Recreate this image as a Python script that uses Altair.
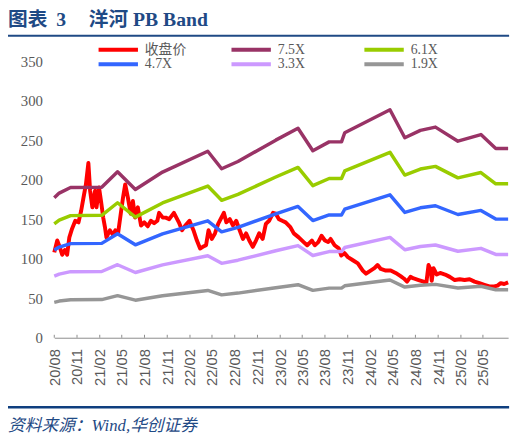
import altair as alt
import pandas as pd

BASE_DATE = "2020-08-01"

# ---- closing price (days since BASE_DATE, value) ----
price_days = [0, 12, 22, 32, 43, 52, 61, 72, 85, 98, 109, 118, 128, 138, 145, 154, 165, 171, 181, 189,
              198, 205, 211, 225, 238, 247, 258, 269, 278, 287, 298, 309, 318, 327, 338, 351, 364, 378, 391, 404,
              417, 424, 439, 451, 465, 484, 504, 517, 530, 547, 563, 577, 590, 601, 614, 624, 637, 650, 663, 676,
              686, 696, 710, 723, 736, 750, 763, 776, 789, 803, 816, 829, 843, 856, 869, 885, 896, 909, 922, 936,
              955, 969, 989, 1009, 1023, 1042, 1054, 1068, 1081, 1095, 1108, 1118, 1134, 1151, 1161, 1174, 1188, 1208, 1228, 1248,
              1261, 1275, 1295, 1308, 1321, 1341, 1361, 1381, 1401, 1414, 1427, 1441, 1454, 1474, 1494, 1505, 1514, 1523, 1527, 1534,
              1547, 1561, 1581, 1600, 1620, 1640, 1660, 1680, 1700, 1720, 1740, 1760, 1780, 1793, 1806, 1820, 1836]
price_vals = [108, 123, 115, 105, 111, 105, 127, 138, 148, 146, 161, 177, 194, 221, 186, 165, 186, 165, 190, 173,
              152, 140, 127, 136, 130, 136, 132, 157, 177, 194, 177, 157, 173, 152, 165, 142, 146, 141, 148, 145,
              148, 158, 152, 152, 150, 158, 146, 136, 142, 148, 136, 123, 113, 115, 117, 136, 125, 132, 144, 152,
              158, 146, 150, 142, 148, 136, 125, 132, 123, 115, 123, 132, 125, 144, 148, 158, 157, 150, 148, 146,
              140, 132, 127, 121, 117, 123, 117, 121, 129, 123, 121, 125, 117, 113, 104, 107, 102, 98, 94, 85,
              81, 84, 88, 92, 87, 85, 85, 82, 78, 75, 71, 77, 75, 73, 71, 69, 92, 86, 72, 88,
              80, 82, 80, 77, 73, 74, 73, 74, 71, 69, 67, 65, 65, 66, 69, 68, 70]

# ---- PB bands (days since BASE_DATE at each break point) ----
band_days = [0, 20, 66, 192, 256, 328, 438, 621, 677, 743, 896, 986, 1046, 1112, 1162, 1175,
             1358, 1418, 1481, 1542, 1633, 1726, 1786, 1836]
band_75 = [177.0, 183.0, 190.0, 190.5, 210.0, 187.6, 209.6, 236.0, 213.8, 223.0, 250.0, 265.0, 236.6, 247.8, 247.8, 259.4,
           288.5, 253.0, 262.4, 266.5, 248.7, 257.0, 239.5, 239.5]
band_61 = [144.0, 148.8, 154.5, 154.9, 170.8, 152.6, 170.5, 191.9, 173.9, 181.4, 203.3, 215.5, 192.4, 201.5, 201.5, 211.0,
           234.6, 205.8, 213.4, 216.8, 202.3, 209.0, 194.8, 194.8]
band_47 = [110.9, 114.7, 119.1, 119.4, 131.6, 117.6, 131.4, 147.9, 134.0, 139.7, 156.7, 166.1, 148.3, 155.3, 155.3, 162.6,
           180.8, 158.5, 164.4, 167.0, 155.9, 161.1, 150.1, 150.1]
band_33 = [77.9, 80.5, 83.6, 83.8, 92.4, 82.5, 92.2, 103.8, 94.1, 98.1, 110.0, 116.6, 104.1, 109.0, 109.0, 114.1,
           126.9, 111.3, 115.5, 117.3, 109.4, 113.1, 105.4, 105.4]
band_19 = [44.8, 46.4, 48.1, 48.3, 53.2, 47.5, 53.1, 59.8, 54.2, 56.5, 63.3, 67.1, 59.9, 62.8, 62.8, 65.7,
           73.1, 64.1, 66.5, 67.5, 63.0, 65.1, 60.7, 60.7]

series_names = ["收盘价", "7.5X", "6.1X", "4.7X", "3.3X", "1.9X"]
series_colors = ["#FF0000", "#993366", "#99CC00", "#3366FF", "#CC99FF", "#969696"]

tick_months = ["2020-08-01", "2020-11-01", "2021-02-01", "2021-05-01", "2021-08-01", "2021-11-01",
               "2022-02-01", "2022-05-01", "2022-08-01", "2022-11-01", "2023-02-01", "2023-05-01",
               "2023-08-01", "2023-11-01", "2024-02-01", "2024-05-01", "2024-08-01", "2024-11-01",
               "2025-02-01", "2025-05-01"]
y_ticks = [0, 50, 100, 150, 200, 250, 300, 350]

title_parts = ["图表", "3", "洋河 PB Band"]
source_text = "资料来源：Wind,华创证券"

assert len(price_days) == len(price_vals)

base = pd.Timestamp(BASE_DATE)
price_df = pd.DataFrame({
    "date": [base + pd.Timedelta(days=d) for d in price_days],
    "value": price_vals,
    "series": series_names[0],
})
band_frames = []
for name, vals in zip(series_names[1:], [band_75, band_61, band_47, band_33, band_19]):
    band_frames.append(pd.DataFrame({
        "date": [base + pd.Timedelta(days=d) for d in band_days],
        "value": vals,
        "series": name,
    }))
band_df = pd.concat(band_frames, ignore_index=True)
tick_df = pd.DataFrame({"date": pd.to_datetime(tick_months)})

W, H = 461, 281
AXIS_GRAY = "#8C8C8C"
LABEL_GRAY = "#595959"
NAVY = "#1F4A85"

tick_vals = [alt.DateTime(year=int(t[:4]), month=int(t[5:7]), date=1) for t in tick_months]
x_scale = alt.Scale(domain=[alt.DateTime(year=2020, month=8, date=1),
                            alt.DateTime(year=2025, month=8, date=11)])
x_axis = alt.Axis(values=tick_vals, format="%y/%m", labelAngle=270, ticks=False,
                  grid=False, domainColor=AXIS_GRAY, domainWidth=1,
                  labelFont="Liberation Sans", labelFontSize=15, labelColor=LABEL_GRAY,
                  labelPadding=11, labelOverlap=False, title=None)
x_enc = alt.X("date:T", scale=x_scale, axis=x_axis)

y_enc = alt.Y("value:Q", scale=alt.Scale(domain=[0, 350], nice=False),
              axis=alt.Axis(values=y_ticks, domain=False, ticks=False, grid=False,
                            labelFont="Liberation Serif", labelFontSize=15,
                            labelColor=LABEL_GRAY, labelPadding=12, title=None))

color_scale = alt.Scale(domain=series_names, range=series_colors)
legend = alt.Legend(orient="none", legendX=43, legendY=-19, columns=3, direction="horizontal",
                    title=None, symbolType="stroke", symbolSize=1600, symbolStrokeWidth=4,
                    clipHeight=14.3,
                    labelFont="Liberation Serif, Noto Sans CJK SC", labelFontSize=14,
                    labelColor=LABEL_GRAY, labelOffset=5, columnPadding=44, rowPadding=0,
                    gridAlign="all", padding=0)
color_enc = alt.Color("series:N", scale=color_scale, legend=legend, sort=series_names)

price_line = alt.Chart(price_df).mark_line(strokeWidth=4, strokeJoin="round").encode(
    x=x_enc, y=y_enc, color=color_enc)

band_lines = alt.Chart(band_df).mark_line(strokeWidth=3.5, strokeJoin="round").encode(
    x=x_enc, y=y_enc, color=color_enc)

ticks = alt.Chart(tick_df).mark_rule(color=AXIS_GRAY, strokeWidth=1).encode(
    x=x_enc, y=alt.value(H - 3), y2=alt.value(H))

title_df = pd.DataFrame({"t": title_parts, "px": [-47, 2, 35]})
title = alt.Chart(title_df).mark_text(align="left", baseline="middle",
                                      font="Liberation Serif, Noto Sans CJK SC",
                                      fontSize=20, fontWeight="bold", color=NAVY).encode(
    x=alt.X("px:Q", scale=None), y=alt.value(-42), text="t:N")

one = pd.DataFrame({"t": [source_text]})
src = alt.Chart(one).mark_text(
    align="left", baseline="middle", font="Liberation Serif, Noto Sans CJK SC",
    fontSize=17, fontStyle="italic", color=NAVY).encode(
    x=alt.value(-47), y=alt.value(371), text="t:N")

top_rule = alt.Chart(one).mark_rule(color=NAVY, strokeWidth=2).encode(
    x=alt.value(-50), x2=alt.value(462), y=alt.value(-25.8))
bottom_rule = alt.Chart(one).mark_rule(color="#0F3F7F", strokeWidth=2.5).encode(
    x=alt.value(-50), x2=alt.value(462), y=alt.value(351.5))

chart = alt.layer(price_line, band_lines, ticks, title, src, top_rule, bottom_rule).properties(
    width=W, height=H,
    autosize=alt.AutoSizeParams(type="none"),
    padding={"left": 47, "top": 50.5, "right": 8, "bottom": 104.5},
    background="white",
).configure_view(stroke=None)

chart.save("out.html", embed_options={"renderer": "svg", "actions": False})
